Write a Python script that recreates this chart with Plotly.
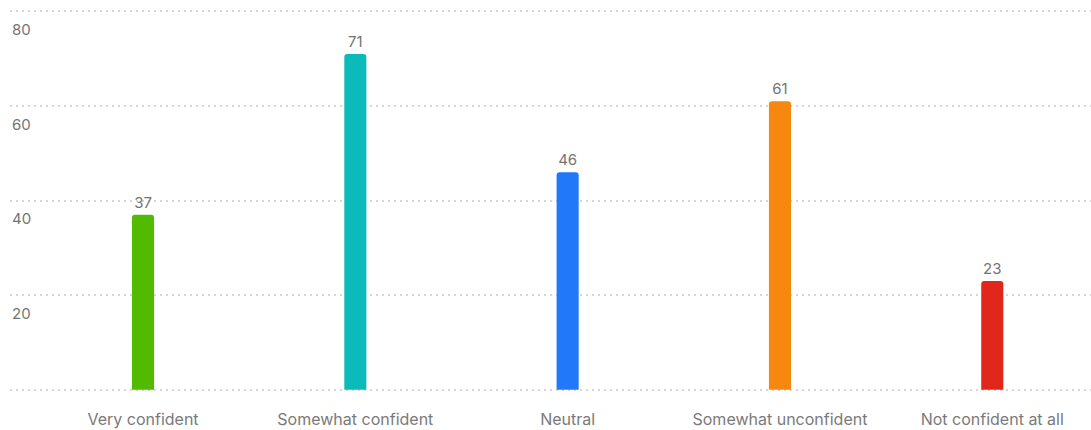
import plotly.graph_objects as go

# Survey responses: confidence level counts
categories = ["Very confident", "Somewhat confident", "Neutral",
              "Somewhat unconfident", "Not confident at all"]
counts = [37, 71, 46, 61, 23]
bar_colors = ["#52bb00", "#0cbbb9", "#2178f8", "#f6870f", "#e1261b"]
y_ticks = [20, 40, 60, 80]
y_tick_labels = ["20", "40", "60", "80"]

FONT = "Inter, Open Sans, Arial, sans-serif"
TEXT_GRAY = "#747474"

fig = go.Figure(
    go.Bar(
        x=list(range(len(categories))),
        y=counts,
        width=0.104,
        marker=dict(color=bar_colors, cornerradius=3, line=dict(width=0)),
        text=[str(v) for v in counts],
        textposition="outside",
        cliponaxis=False,
        textfont=dict(family=FONT, size=15, color=TEXT_GRAY),
        hoverinfo="skip",
    )
)

# value-axis labels sit just below their gridlines, at the left edge
for v, lab in zip(y_ticks, y_tick_labels):
    fig.add_annotation(
        x=0, xref="paper", xanchor="left",
        y=v, yref="y", yanchor="middle", yshift=-18,
        text=lab, showarrow=False,
        font=dict(family=FONT, size=15, color=TEXT_GRAY),
    )

fig.update_layout(
    width=1091, height=430,
    margin=dict(l=10, r=0, t=2, b=38),
    paper_bgcolor="white", plot_bgcolor="white",
    showlegend=False,
    xaxis=dict(
        range=[-0.6265, 4.465],
        tickmode="array",
        tickvals=list(range(len(categories))),
        ticktext=categories,
        ticks="outside", ticklen=13, tickcolor="rgba(0,0,0,0)",
        tickfont=dict(family=FONT, size=16, color="#7a7a7a"),
        showgrid=False, zeroline=False, showline=False,
    ),
    yaxis=dict(
        range=[-0.5, 82],
        tickmode="array",
        tickvals=[0] + y_ticks,
        showticklabels=False,
        showgrid=True, gridcolor="#d6d6d6", gridwidth=2, griddash="2px,4px",
        zeroline=False, showline=False,
    ),
)

fig.write_html("out.html")
